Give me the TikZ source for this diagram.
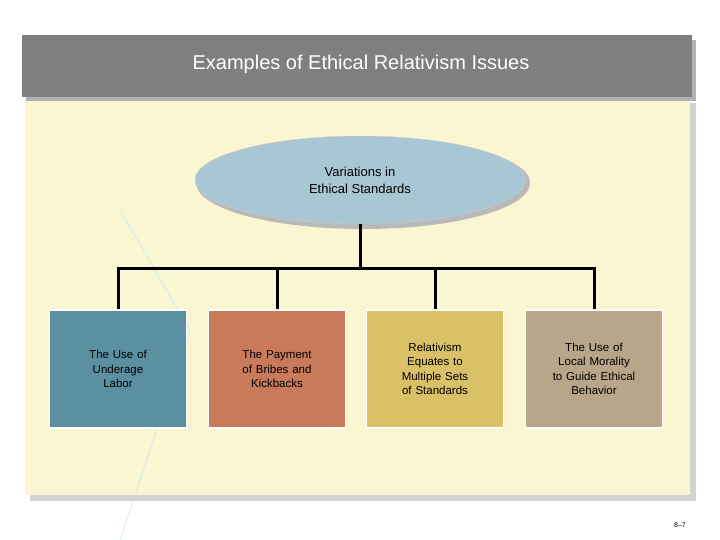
\documentclass[tikz,border=0pt]{standalone}
\usepackage{fontspec}
\setmainfont{Liberation Sans}
\usetikzlibrary{shapes.geometric}
\definecolor{cream}{HTML}{FBF6D2}
\definecolor{titlegray}{HTML}{7F7F7F}
\definecolor{ell}{HTML}{A9C6D4}
\definecolor{cA}{HTML}{5A90A2}
\definecolor{cB}{HTML}{C97A5A}
\definecolor{cC}{HTML}{DAC066}
\definecolor{cD}{HTML}{B8A68A}
\tikzset{catbox/.style={draw=white,line width=1.5pt,minimum width=137pt,minimum height=118pt,align=center,font=\fontsize{11.5}{14.5}\selectfont,text width=110pt},
 link/.style={line width=3pt,black}}
\begin{document}
\begin{tikzpicture}[x=1pt,y=-1pt]
\useasboundingbox (0,0) rectangle (720,540);
\fill[white] (0,0) rectangle (720,540);
\fill[gray!35] (30,103) rectangle (696,501);
\fill[cream] (25,97) rectangle (690,495);
\fill[gray!60] (26,40) rectangle (696,101);
\fill[titlegray] (22,35) rectangle (692,97);
\node[white,font=\fontsize{20}{24}\selectfont] (title) at (361,64) {Examples of Ethical Relativism Issues};
\draw[cyan!25,line width=0.6pt] (120,210) -- (190,330);
\draw[cyan!25,line width=0.6pt] (190,330) -- (120,540);
\node[ellipse,fill=gray!55,minimum width=334pt,minimum height=92pt] at (363,183) {};
\node[ellipse,fill=ell,draw=gray!40,minimum width=330pt,minimum height=88pt,align=center,font=\fontsize{13}{17}\selectfont] (root) at (360,180) {Variations in\\Ethical Standards};
\node[catbox,fill=cA] (a) at (118,369) {The Use of\\Underage\\Labor};
\node[catbox,fill=cB] (b) at (277,369) {The Payment\\of Bribes and\\Kickbacks};
\node[catbox,fill=cC] (c) at (435,369) {Relativism\\Equates to\\Multiple Sets\\of Standards};
\node[catbox,fill=cD] (d) at (594,369) {The Use of\\Local Morality\\to Guide Ethical\\Behavior};
\coordinate (j) at (360,268);
\draw[link] (root.south) -- (j);
\draw[link] (a.north) -- (a.north |- j) -- (d.north |- j) -- (d.north);
\draw[link] (b.north |- j) -- (b.north);
\draw[link] (c.north |- j) -- (c.north);
\node[font=\fontsize{7}{8}\selectfont] (pg) at (680,525) {8–7};
\end{tikzpicture}
\end{document}
